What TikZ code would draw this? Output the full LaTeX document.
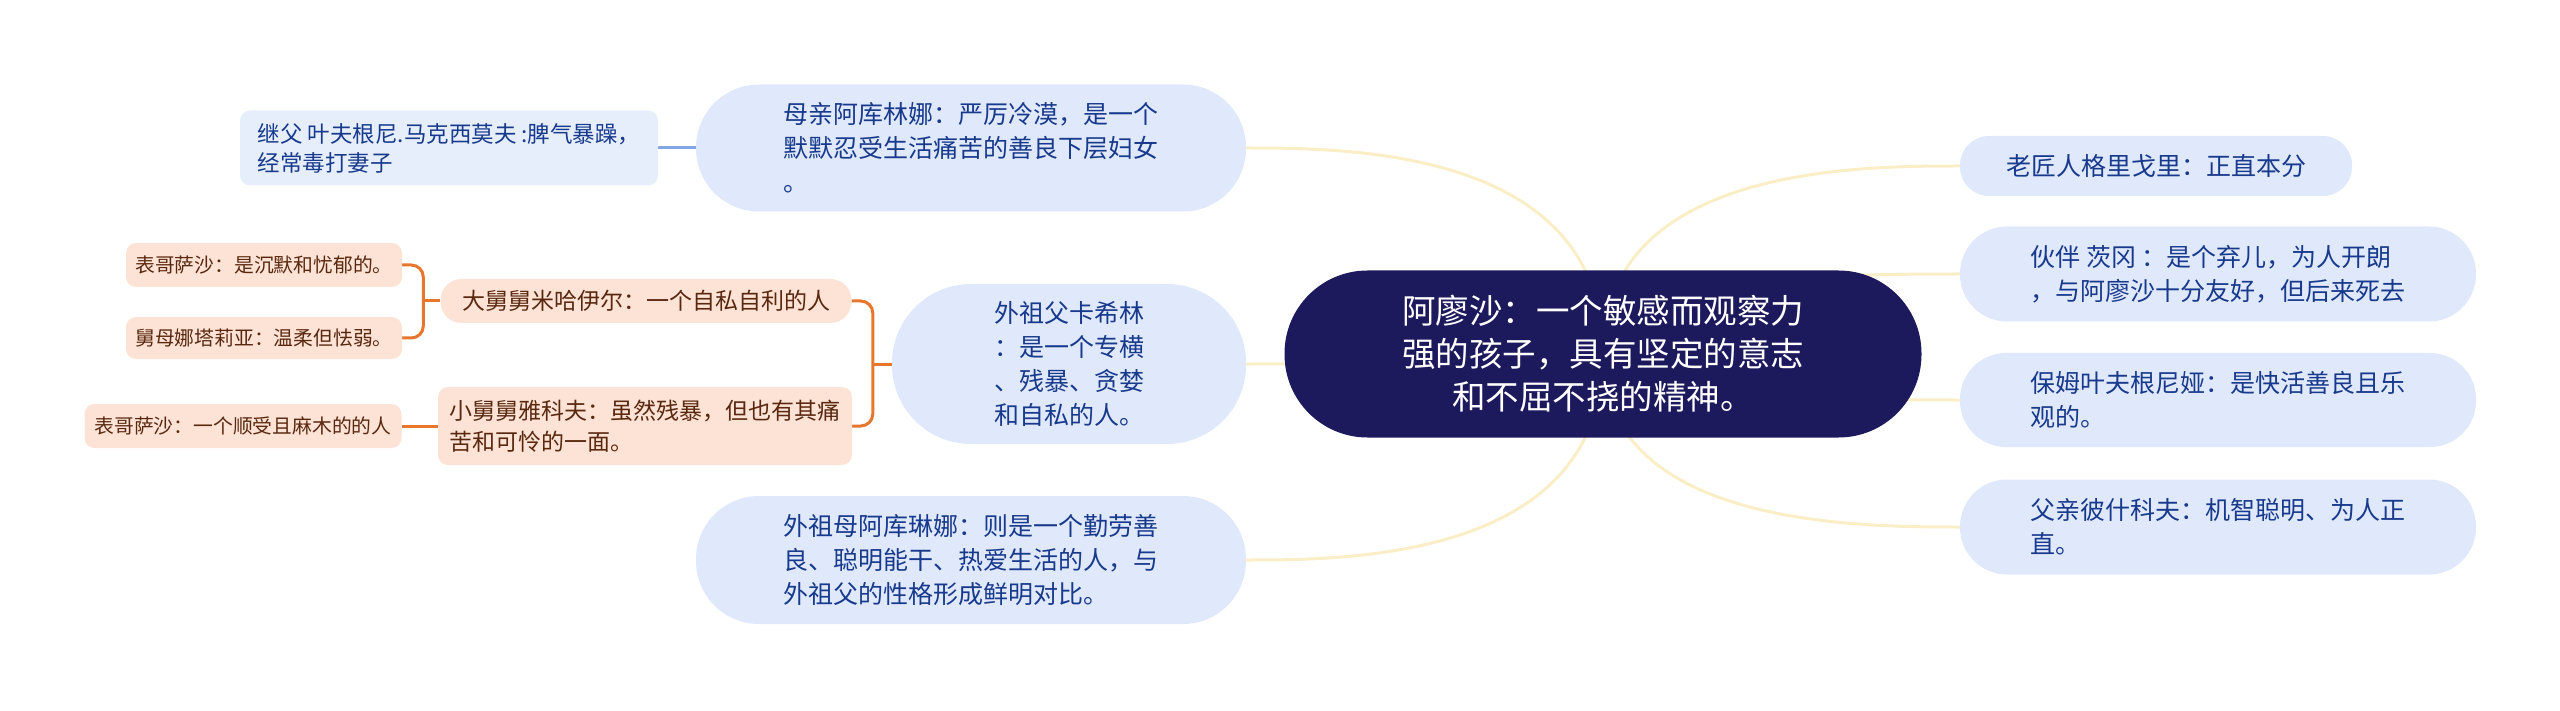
\documentclass[tikz,border=0pt]{standalone}
\usepackage{fontspec}
\setmainfont{Noto Sans CJK SC}
\usetikzlibrary{backgrounds}
\definecolor{rootfill}{HTML}{1C1A5C}
\definecolor{bluefill}{HTML}{E0E8FB}
\definecolor{notefill}{HTML}{E6EEFC}
\definecolor{bluetext}{HTML}{183A8C}
\definecolor{peach}{HTML}{FCE3D5}
\definecolor{browntext}{HTML}{5A2810}
\definecolor{orangeline}{HTML}{E8772E}
\definecolor{yellowline}{HTML}{FAEEC6}
\definecolor{blueline}{HTML}{82A5E3}
\begin{document}
\begin{tikzpicture}[x=1pt, y=-1pt,
  every node/.style={inner sep=0pt, align=left},
  root/.style={fill=rootfill, text=white, align=center, font=\fontsize{33.5}{43}\selectfont},
  topic/.style={fill=bluefill, text=bluetext, font=\fontsize{25}{34}\selectfont},
  note/.style={fill=notefill, text=bluetext, font=\fontsize{22.5}{29}\selectfont},
  sub/.style={fill=peach, text=browntext, font=\fontsize{23}{31}\selectfont},
  leaf/.style={fill=peach, text=browntext, font=\fontsize{19.8}{25}\selectfont},
  ylink/.style={draw=yellowline, line width=3pt},
  olink/.style={draw=orangeline, line width=3pt, rounded corners=12pt},
  blink/.style={draw=blueline, line width=3pt}]
  \useasboundingbox (0,0) rectangle (2560,711);
  \node[root, minimum width=637pt, minimum height=167pt, rounded corners=83pt] (n0) at (1603,354) {阿廖沙：一个敏感而观察力\\强的孩子，具有坚定的意志\\和不屈不挠的精神。};
  \node[topic, minimum width=550pt, minimum height=127pt, rounded corners=63pt] (n1) at (971,148) {母亲阿库林娜：严厉冷漠，是一个\\默默忍受生活痛苦的善良下层妇女\\。};
  \node[topic, align=center, minimum width=354pt, minimum height=160pt, rounded corners=79pt] (n2) at (1069,364) {外祖父卡希林\\：是一个专横\\、残暴、贪婪\\和自私的人。};
  \node[topic, minimum width=550pt, minimum height=128pt, rounded corners=63pt] (n3) at (971,560) {外祖母阿库琳娜：则是一个勤劳善\\良、聪明能干、热爱生活的人，与\\外祖父的性格形成鲜明对比。};
  \node[topic, minimum width=392pt, minimum height=60pt, rounded corners=29pt] (n4) at (2156,166) {老匠人格里戈里：正直本分};
  \node[topic, minimum width=516pt, minimum height=95pt, rounded corners=47pt] (n5) at (2218,274) {伙伴 茨冈 ：是个弃儿，为人开朗\\，与阿廖沙十分友好，但后来死去};
  \node[topic, minimum width=516pt, minimum height=94pt, rounded corners=46pt] (n6) at (2218,400) {保姆叶夫根尼娅：是快活善良且乐\\观的。};
  \node[topic, minimum width=516pt, minimum height=95pt, rounded corners=47pt] (n7) at (2218,527) {父亲彼什科夫：机智聪明、为人正\\直。};
  \node[note, minimum width=418pt, minimum height=75pt, rounded corners=10pt] (n11) at (449,148) {继父 叶夫根尼.马克西莫夫 :脾气暴躁，\\经常毒打妻子};
  \node[sub, minimum width=411pt, minimum height=44pt, rounded corners=21pt] (n21) at (646,301) {大舅舅米哈伊尔：一个自私自利的人};
  \node[sub, minimum width=414pt, minimum height=78pt, rounded corners=10pt] (n22) at (645,426) {小舅舅雅科夫：虽然残暴，但也有其痛\\苦和可怜的一面。};
  \node[leaf, minimum width=276pt, minimum height=44pt, rounded corners=10pt] (n211) at (264,265) {表哥萨沙：是沉默和忧郁的。};
  \node[leaf, minimum width=276pt, minimum height=42pt, rounded corners=10pt] (n212) at (264,338) {舅母娜塔莉亚：温柔但怯弱。};
  \node[leaf, minimum width=317pt, minimum height=44pt, rounded corners=10pt] (n221) at (243,426) {表哥萨沙：一个顺受且麻木的的人};
  \begin{pgfonlayer}{background}
    \foreach \n in {n1,n2,n3}
      \draw[ylink] (n0.center) .. controls (n0.center |- \n.east) and ([xshift=100pt]\n.east) .. (\n.east);
    \foreach \n in {n4,n5,n6,n7}
      \draw[ylink] (n0.center) .. controls (n0.center |- \n.west) and ([xshift=-100pt]\n.west) .. (\n.west);
    \draw[blink] (n1.west) -- (n11.east);
    \draw[olink] (n2.west) -- ++(-19,0);
    \draw[olink] (n21.east) -| ([xshift=-19pt]n2.west) |- (n22.east);
    \draw[olink] (n21.west) -- ++(-17,0);
    \draw[olink] (n211.east) -| ([xshift=-17pt]n21.west) |- (n212.east);
    \draw[olink] (n22.west) -- (n221.east);
  \end{pgfonlayer}
\end{tikzpicture}
\end{document}
